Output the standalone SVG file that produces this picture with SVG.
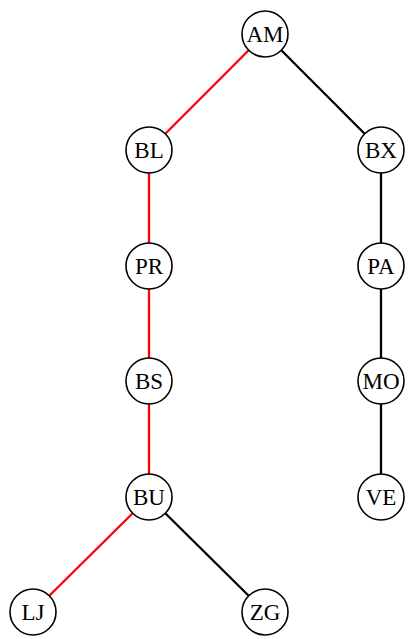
<svg xmlns="http://www.w3.org/2000/svg" width="409" height="639" viewBox="0 0 409 639">
<style>
.n circle{fill:#fff;stroke:#000;stroke-width:1.6}
.n text{font-family:"Liberation Serif","Times New Roman",serif;font-size:23px;text-anchor:middle;dominant-baseline:central;fill:#000}
.e line{stroke-width:2.3}
.r{stroke:#f00}
.k{stroke:#000}
</style>
<rect width="409" height="639" fill="#fff"/>
<g id="edges" class="e">
<line class="r" x1="248.7" y1="50.3" x2="165.3" y2="133.7"/>
<line class="k" x1="281.3" y1="50.3" x2="364.7" y2="133.7"/>
<line class="r" x1="149" y1="173" x2="149" y2="243"/>
<line class="r" x1="149" y1="289" x2="149" y2="358"/>
<line class="r" x1="149" y1="404" x2="149" y2="474"/>
<line class="k" x1="381" y1="173" x2="381" y2="243"/>
<line class="k" x1="381" y1="289" x2="381" y2="358"/>
<line class="k" x1="381" y1="404" x2="381" y2="474"/>
<line class="r" x1="132.7" y1="513.3" x2="49.3" y2="595.7"/>
<line class="k" x1="165.3" y1="513.3" x2="248.7" y2="595.7"/>
</g>
<g id="AM" class="n"><circle cx="265" cy="34" r="23"/><text x="265" y="34">AM</text></g>
<g id="BL" class="n"><circle cx="149" cy="150" r="23"/><text x="149" y="150">BL</text></g>
<g id="BX" class="n"><circle cx="381" cy="150" r="23"/><text x="381" y="150">BX</text></g>
<g id="PR" class="n"><circle cx="149" cy="266" r="23"/><text x="149" y="266">PR</text></g>
<g id="PA" class="n"><circle cx="381" cy="266" r="23"/><text x="381" y="266">PA</text></g>
<g id="BS" class="n"><circle cx="149" cy="381" r="23"/><text x="149" y="381">BS</text></g>
<g id="MO" class="n"><circle cx="381" cy="381" r="23"/><text x="381" y="381">MO</text></g>
<g id="BU" class="n"><circle cx="149" cy="497" r="23"/><text x="149" y="497">BU</text></g>
<g id="VE" class="n"><circle cx="381" cy="497" r="23"/><text x="381" y="497">VE</text></g>
<g id="LJ" class="n"><circle cx="33" cy="612" r="23"/><text x="33" y="612">LJ</text></g>
<g id="ZG" class="n"><circle cx="265" cy="612" r="23"/><text x="265" y="612">ZG</text></g>
</svg>
